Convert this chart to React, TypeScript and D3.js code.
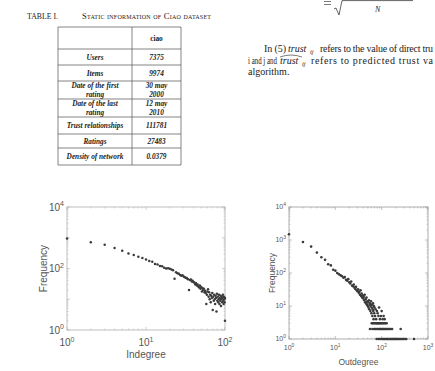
import React from "react";
import * as d3 from "d3";

// table I rows: [label lines, value lines]
const tableRows: [string[], string[]][] = [
  [["Users"], ["7375"]],
  [["Items"], ["9974"]],
  [["Date of the first", "rating"], ["30 may", "2000"]],
  [["Date of the last", "rating"], ["12 may", "2010"]],
  [["Trust relationships"], ["111781"]],
  [["Ratings"], ["27483"]],
  [["Density of network"], ["0.0379"]],
];
const rowHeights = [22, 16, 16, 18, 18, 17, 14, 17];

// indegree distribution [degree, frequency]
const inPoints: [number, number][] = [
  [1, 950], [2, 720], [3, 590], [4, 465], [5, 380], [6, 310], [7, 275], [8, 240],
  [9, 220], [10, 195], [11, 175], [12, 165], [13, 140], [14, 135], [15, 120],
  [16, 118], [17, 105], [18, 100], [19, 102], [20, 98], [21, 92], [22, 88],
  [23, 46], [24, 75], [25, 70], [26, 68], [27, 62], [28, 58], [29, 60], [30, 55],
  [31, 52], [32, 50], [33, 48], [34, 45], [35, 20], [36, 42], [37, 44], [38, 38],
  [39, 40], [40, 36], [41, 35], [42, 30], [43, 33], [44, 28], [45, 30], [46, 26],
  [47, 24], [48, 28], [49, 22], [50, 25], [51, 18], [52, 23], [53, 20], [54, 22],
  [55, 17], [56, 19], [57, 16], [58, 7], [59, 14], [60, 18], [61, 21], [62, 12],
  [63, 17], [64, 10], [65, 14], [66, 8], [67, 13], [68, 11], [69, 16], [70, 4.5],
  [71, 12], [72, 9], [73, 14], [74, 10], [75, 7], [76, 13], [77, 11], [78, 4],
  [79, 15], [80, 9], [81, 12], [82, 8], [83, 10], [84, 14], [85, 7], [86, 11],
  [87, 9], [88, 13], [89, 6], [90, 10], [91, 12], [92, 8], [93, 11], [94, 14],
  [95, 9], [96, 7], [97, 12], [98, 10], [99, 8], [100, 11], [100, 2],
];

// outdegree distribution [degree, frequency]
const outPoints: [number, number][] = [
  [1, 1500], [2, 870], [3, 630], [4, 415], [5, 300], [6, 250], [7, 185], [8, 170],
  [9, 125], [10, 118], [11, 100], [12, 92], [13, 85], [14, 80], [15, 72], [16, 75],
  [17, 62], [18, 58], [19, 65], [20, 52], [21, 48], [22, 55], [23, 42], [24, 40],
  [25, 45], [26, 36], [27, 33], [28, 38], [29, 30], [30, 28], [31, 32], [32, 25],
  [33, 27], [34, 22], [35, 30], [36, 20], [37, 24], [38, 18], [39, 21], [40, 17],
  [41, 19], [42, 15], [43, 22], [44, 13], [45, 16], [46, 12], [47, 18], [48, 11],
  [49, 14], [50, 10], [51, 13], [52, 9], [53, 15], [54, 8], [55, 11], [56, 12],
  [57, 7], [58, 10], [59, 14], [60, 6], [61, 9], [62, 11], [63, 5], [64, 8],
  [65, 12], [66, 7], [67, 4], [68, 10], [69, 6], [70, 9], [72, 5], [74, 8],
  [76, 4], [79, 7], [82, 6], [85, 5], [88, 9], [92, 4], [96, 5], [100, 7],
  [105, 4], [110, 5], [116, 4],
  // frequency 3
  [61, 3], [64, 3], [67, 3], [71, 3], [75, 3], [78, 3], [81, 3], [84, 3], [87, 3],
  [91, 3], [95, 3], [99, 3], [104, 3], [109, 3], [115, 3], [121, 3], [128, 3],
  // frequency 2
  [56, 2], [63, 2], [69, 2], [73, 2], [79, 2], [83, 2], [89, 2], [93, 2], [97, 2],
  [102, 2], [107, 2], [112, 2], [118, 2], [124, 2], [131, 2], [139, 2], [147, 2],
  [156, 2], [168, 2], [257, 2],
  // frequency 1
  [78, 1], [86, 1], [92, 1], [101, 1], [106, 1], [111, 1], [117, 1], [123, 1],
  [130, 1], [135, 1], [142, 1], [150, 1], [158, 1], [165, 1], [172, 1], [180, 1],
  [188, 1], [196, 1], [205, 1], [215, 1], [226, 1], [238, 1], [251, 1], [265, 1],
  [280, 1], [298, 1], [318, 1], [340, 1], [500, 1],
];

const serif = "'Liberation Serif', 'Times New Roman', serif";
const sans = "'Liberation Sans', Arial, sans-serif";

const Pow = ({ x, y, e, size, anchor }: any) => (
  <text x={x} y={y} fontSize={size} textAnchor={anchor} fontFamily={sans} fill="#555">
    <tspan>10</tspan>
    <tspan dy={-size * 0.45} fontSize={size * 0.7}>{e}</tspan>
  </text>
);

const LogScatter = ({ points, xMax, x0, x1, y0, y1, xLabels, yLabels, font, titleFont, title, xLabel, yLabelX, xLabelY, r, axisColor }: any) => {
  const x = d3.scaleLog().domain([1, xMax]).range([x0, x1]);
  const y = d3.scaleLog().domain([1, 1e4]).range([y0, y1]);
  const minorX = d3.range(0, Math.log10(xMax)).flatMap((k) => d3.range(2, 10).map((m) => m * 10 ** k));
  const minorY = d3.range(0, 4).flatMap((k) => d3.range(2, 10).map((m) => m * 10 ** k));
  const majorX = d3.range(0, Math.log10(xMax) + 1).map((k) => 10 ** k);
  const majorY = d3.range(0, 5).map((k) => 10 ** k);
  return (
    <g>
      <rect x={x0} y={y1} width={x1 - x0} height={y0 - y1} fill="#fff" stroke={axisColor} strokeWidth={0.8} />
      {minorX.map((v: number) => (
        <g key={"mx" + v} stroke={axisColor} strokeWidth={0.5}>
          <line x1={x(v)} x2={x(v)} y1={y0} y2={y0 - 1.5} />
          <line x1={x(v)} x2={x(v)} y1={y1} y2={y1 + 1.5} />
        </g>
      ))}
      {majorX.map((v: number) => (
        <g key={"Mx" + v} stroke={axisColor} strokeWidth={0.6}>
          <line x1={x(v)} x2={x(v)} y1={y0} y2={y0 - 3} />
          <line x1={x(v)} x2={x(v)} y1={y1} y2={y1 + 3} />
        </g>
      ))}
      {minorY.map((v: number) => (
        <g key={"my" + v} stroke={axisColor} strokeWidth={0.5}>
          <line x1={x0} x2={x0 + 1.5} y1={y(v)} y2={y(v)} />
          <line x1={x1} x2={x1 - 1.5} y1={y(v)} y2={y(v)} />
        </g>
      ))}
      {majorY.map((v: number) => (
        <g key={"My" + v} stroke={axisColor} strokeWidth={0.6}>
          <line x1={x0} x2={x0 + 3} y1={y(v)} y2={y(v)} />
          <line x1={x1} x2={x1 - 3} y1={y(v)} y2={y(v)} />
        </g>
      ))}
      {points.map(([a, b]: [number, number], i: number) => (
        <circle key={i} cx={x(a)} cy={y(b)} r={r} fill="#3a3a3a" />
      ))}
      {xLabels.map((e: number) => (
        <Pow key={"xl" + e} x={x(10 ** e)} y={y0 + font * 1.6} e={e} size={font} anchor="middle" />
      ))}
      {yLabels.map((e: number) => (
        <Pow key={"yl" + e} x={x0 - 3} y={y(10 ** e) + font * 0.35} e={e} size={font} anchor="end" />
      ))}
      <text x={(x0 + x1) / 2} y={xLabelY} fontSize={titleFont} fontFamily={sans} fill="#555" textAnchor="middle">
        {xLabel}
      </text>
      <text
        transform={`translate(${yLabelX},${(y0 + y1) / 2}) rotate(-90)`}
        fontSize={titleFont}
        fontFamily={sans}
        fill="#555"
        textAnchor="middle"
      >
        {title}
      </text>
    </g>
  );
};

const Table = () => {
  const xa = 58, xb = 132, xc = 181;
  let top = 27;
  const ys = [top];
  rowHeights.forEach((h) => ys.push((top += h)));
  const fs = 7.3;
  const cell = (lines: string[], cx: number, cy: number, key: string, italic = true) => (
    <text key={key} x={cx} fontSize={fs} fontFamily={serif} fontWeight="bold" fontStyle={italic ? "italic" : "normal"} textAnchor="middle" fill="#222">
      {lines.map((l, i) => (
        <tspan key={i} x={cx} y={cy + fs * 0.35 + (i - (lines.length - 1) / 2) * 9}>{l}</tspan>
      ))}
    </text>
  );
  return (
    <g>
      <text x={27} y={19} fontSize={7.8} fontFamily={serif} fill="#222">TABLE I.</text>
      <text x={82} y={19} fontSize={8.6} fontFamily={serif} fill="#222" style={{ fontVariant: "small-caps" }} textLength={129}>
        Static information of Ciao dataset
      </text>
      <g stroke="#666" strokeWidth={0.8}>
        {ys.map((y, i) => <line key={i} x1={xa} x2={xc} y1={y} y2={y} />)}
        <line x1={xa} x2={xa} y1={ys[0]} y2={ys[ys.length - 1]} />
        <line x1={xb} x2={xb} y1={ys[0]} y2={ys[ys.length - 1]} />
        <line x1={xc} x2={xc} y1={ys[0]} y2={ys[ys.length - 1]} />
      </g>
      {cell(["ciao"], (xb + xc) / 2, (ys[0] + ys[1]) / 2, "h", false)}
      {tableRows.map(([l, v], i) => {
        const cy = (ys[i + 1] + ys[i + 2]) / 2;
        return (
          <g key={i}>
            {cell(l, (xa + xb) / 2, cy, "l" + i)}
            {cell(v, (xb + xc) / 2, cy, "v" + i)}
          </g>
        );
      })}
    </g>
  );
};

const Prose = () => {
  const fs = 10;
  const sub = (x: number, y: number) => (
    <text x={x} y={y + 2} fontSize={6.5} fontStyle="italic">ij</text>
  );
  return (
    <g fontFamily={serif} fontSize={fs} fill="#222">
      {/* tail of formula (5) */}
      <path d="M324,1.5 L331,1.5 M324,4.5 L331,4.5" stroke="#222" strokeWidth={0.6} />
      <path d="M334,9 L336,8 L339,15 L342,0.6 L413,0.6" fill="none" stroke="#222" strokeWidth={0.7} />
      <text x={375} y={12} fontSize={8} fontStyle="italic">N</text>

      <text x={264} y={52} textLength={22} lengthAdjust="spacing">In (5)</text>
      <text x={288} y={52} fontStyle="italic">trust</text>
      {sub(310, 52)}
      <text x={320} y={52} textLength={113} lengthAdjust="spacing">refers to the value of direct tru</text>

      <text x={248} y={64} textLength={29} lengthAdjust="spacingAndGlyphs">i and j and</text>
      <text x={280} y={64} fontStyle="italic">trust</text>
      {sub(302, 64)}
      <path d="M280,57 Q291,53 302,57" fill="none" stroke="#222" strokeWidth={0.6} />
      <text x={311} y={64} textLength={122} lengthAdjust="spacing">refers to predicted trust va</text>

      <text x={248} y={75}>algorithm.</text>
    </g>
  );
};

export default function App() {
  return (
    <svg width={435} height={371} style={{ position: "absolute", left: 0, top: 0, background: "#fff" }}>
      <rect width={435} height={371} fill="#fff" />
      <Table />
      <Prose />
      <LogScatter
        points={inPoints} xMax={100} x0={67} x1={225} y0={330} y1={207}
        xLabels={[0, 1, 2]} yLabels={[0, 2, 4]} font={10} titleFont={10} r={1.25}
        title="Frequency" xLabel="Indegree" yLabelX={47} xLabelY={358} axisColor="#b0b0b0"
      />
      <LogScatter
        points={outPoints} xMax={1000} x0={289} x1={428} y0={339} y1={207}
        xLabels={[0, 1, 2, 3]} yLabels={[0, 1, 2, 3, 4]} font={7} titleFont={8.5} r={1.3}
        title="Frequency" xLabel="Outdegree" yLabelX={275} xLabelY={365} axisColor="#999"
      />
    </svg>
  );
}
